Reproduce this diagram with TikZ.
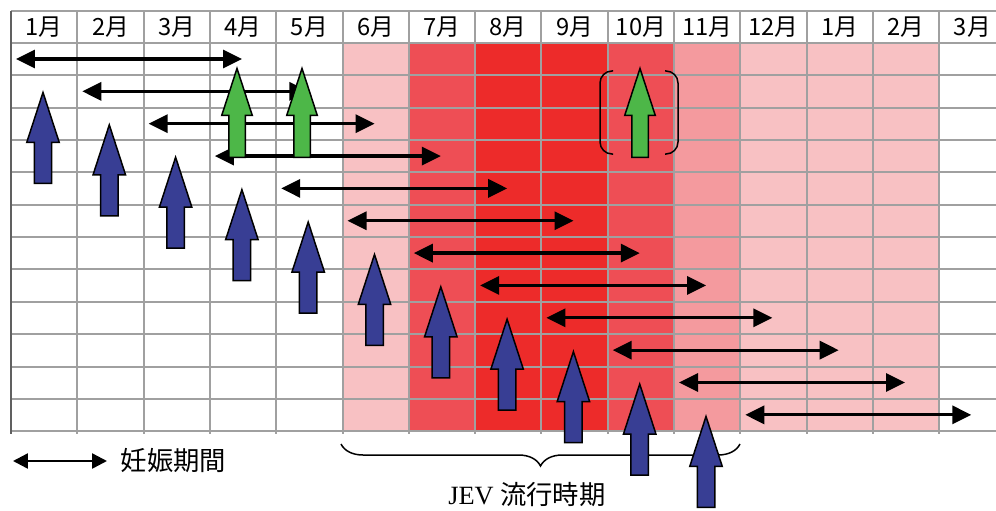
\documentclass[tikz,border=0pt]{standalone}
\usepackage{fontspec}
\setmainfont{Liberation Serif}
\newfontfamily\jpfont{Noto Sans CJK JP}
\usetikzlibrary{arrows.meta, shapes.arrows, decorations.pathreplacing, positioning}

\definecolor{gridgray}{RGB}{160,160,160}
\definecolor{jevlight}{RGB}{248,193,195}
\definecolor{jevpale}{RGB}{244,154,158}
\definecolor{jevmid}{RGB}{238,78,85}
\definecolor{jevdark}{RGB}{237,43,42}
\definecolor{birthblue}{RGB}{56,62,148}
\definecolor{vaccgreen}{RGB}{77,183,72}

\begin{document}
\begin{tikzpicture}[x=0.02cm, y=-0.02cm,
    >={Triangle[length=0.38cm,width=0.36cm]}]

    \tikzset{
      month/.style = {font=\jpfont\fontsize{13.5}{15}\selectfont},
      pregnancy/.style = {<->, line width=0.065cm},
      birth/.style = {single arrow, draw=black, fill=birthblue,
        line width=0.03cm, rotate=90, anchor=tip, inner xsep=0pt,
        inner ysep=0.16cm, minimum height=1.82cm,
        single arrow head extend=0.15cm, single arrow tip angle=36},
      vaccine/.style = {birth, fill=vaccgreen, inner ysep=0.15cm,
        minimum height=1.78cm, single arrow head extend=0.14cm},
    }

    \useasboundingbox (0,0) rectangle (996,510);

    % season colours
    \foreach \c/\col in {5/jevlight, 6/jevmid, 7/jevdark, 8/jevdark,
        9/jevmid, 10/jevpale, 11/jevlight, 12/jevlight, 13/jevlight}
      \fill[\col] ({11+66.3*\c},43) rectangle ({11+66.3*(\c+1)},431);

    % grid
    \draw[gridgray, line width=0.04cm] (11,11) -- (996,11);
    \foreach \r in {0,...,12}
      \draw[gridgray, line width=0.04cm] (11,{43+32.35*\r}) -- (996,{43+32.35*\r});
    \foreach \c in {1,...,14}
      \draw[gridgray, line width=0.04cm] ({11+66.3*\c},11) -- ({11+66.3*\c},434);
    \draw[gridgray!60!black, line width=0.04cm] (11,11) -- (11,434);

    % months
    \foreach \m [count=\c from 0] in {1月,2月,3月,4月,5月,6月,7月,8月,9月,10月,11月,12月,1月,2月,3月}
      \node[month] (m\c) at ({11+66.3*(\c+0.5)},27) {\m};

    % pregnancy periods
    \foreach \i in {0,...,11} {
      \coordinate (s\i) at ({16+66.3*\i},{59+32.35*\i});
      \coordinate (e\i) at ({242+66.3*\i},{59+32.35*\i});
      \path[pregnancy] (s\i) edge (e\i);
    }

    % JEV season
    \coordinate (jevL) at (341,444);
    \coordinate (jevR) at (740,444);
    \draw[line width=0.03cm, decorate,
      decoration={brace, mirror, amplitude=0.44cm}] (jevL) -- (jevR);
    \node[inner sep=0pt] (jev) at (527,495) {\fontsize{15}{17}\selectfont JEV \jpfont 流行時期};

    % births
    \foreach \i in {0,...,10}
      \node[birth] (b\i) at ({43+66.3*\i},{90+32.4*\i}) {};

    % vaccinations
    \node[vaccine] (v1) at (237,66) {};
    \node[vaccine] (v2) at (302,66) {};
    \node[vaccine] (v3) at (640,66) {};
    \draw[line width=0.03cm, rounded corners=0.24cm]
      (613,71) -- (600,71) -- (600,154) -- (613,154);
    \draw[line width=0.03cm, rounded corners=0.24cm]
      (665,71) -- (678,71) -- (678,154) -- (665,154);

    % legend
    \coordinate (lg1) at (13,461);
    \coordinate (lg2) at (107,461);
    \path[pregnancy, line width=0.05cm, >={Triangle[length=0.3cm,width=0.3cm]}] (lg1) edge (lg2);
    \node[right=0.15cm of lg2, font=\jpfont\fontsize{15}{17}\selectfont] (lgtext) {妊娠期間};

  \end{tikzpicture}
\end{document}
